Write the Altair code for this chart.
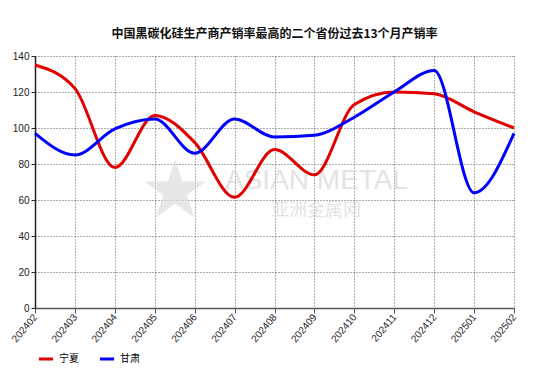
import altair as alt
import pandas as pd

months = ["202402", "202403", "202404", "202405", "202406", "202407", "202408",
          "202409", "202410", "202411", "202412", "202501", "202502"]
ningxia = [135, 122, 78, 107, 92, 61.5, 88, 74, 113, 120, 119, 109, 100]
gansu = [97, 85, 99.5, 105, 86, 105, 95, 96, 106, 120, 132, 64, 97]
series_names = ["宁夏", "甘肃"]
series_colors = ["#e00000", "#0000ff"]
title_text = "中国黑碳化硅生产商产销率最高的二个省份过去13个月产销率"

rows = []
for m, v in zip(months, ningxia):
    rows.append({"month": m, "value": v, "series": series_names[0]})
for m, v in zip(months, gansu):
    rows.append({"month": m, "value": v, "series": series_names[1]})
df = pd.DataFrame(rows)

FONT = "Noto Sans CJK SC"

lines = alt.Chart(df).mark_line(interpolate="monotone", strokeWidth=3).encode(
    x=alt.X("month:O", sort=months, scale=alt.Scale(type="point", padding=0),
            axis=alt.Axis(title=None, labelAngle=-50, labelFontSize=10, labelColor="#222",
                          grid=True, gridDash=[1, 2], gridColor="#333", gridOpacity=0.8,
                          domainColor="#555", domainWidth=1.5, tickColor="#555")),
    y=alt.Y("value:Q", scale=alt.Scale(domain=[0, 140]),
            axis=alt.Axis(title=None, values=list(range(0, 141, 20)), labelFontSize=10,
                          labelColor="#222", grid=True, gridDash=[1, 2], gridColor="#333",
                          gridOpacity=0.8, domainColor="#222", domainWidth=1.5,
                          tickColor="#222", tickSize=4)),
    color=alt.Color("series:N", sort=series_names,
                    scale=alt.Scale(domain=series_names, range=series_colors),
                    legend=alt.Legend(title=None, orient="none", legendX=2, legendY=294,
                                      direction="horizontal", symbolType="stroke",
                                      symbolStrokeWidth=3, symbolSize=200, labelFontSize=10,
                                      columnPadding=14, labelFont=FONT)),
)

wm1 = alt.Chart(pd.DataFrame({"t": ["ASIAN METAL"]})).mark_text(
    fontSize=28, font="Liberation Sans", color="#d8d8d8", opacity=0.7, align="left",
    baseline="middle").encode(x=alt.value(190), y=alt.value(125), text="t:N")
wm2 = alt.Chart(pd.DataFrame({"t": ["亚洲金属网"]})).mark_text(
    fontSize=18, font=FONT, color="#d8d8d8", opacity=0.7, align="left",
    baseline="middle").encode(x=alt.value(236), y=alt.value(155), text="t:N")
wm3 = alt.Chart(pd.DataFrame({"t": ["★"]})).mark_text(
    fontSize=80, font="DejaVu Sans", color="#dddddd", opacity=0.7, align="center",
    baseline="middle").encode(x=alt.value(140), y=alt.value(137), text="t:N")

chart = alt.layer(wm3, wm1, wm2, lines).properties(
    width=479, height=252,
    title=alt.TitleParams(title_text, fontSize=12, font=FONT, fontWeight="bold",
                          anchor="middle", offset=10, color="#111"),
    autosize=alt.AutoSizeParams(type="none"),
    padding={"left": 35, "top": 56, "right": 25, "bottom": 70},
).configure_view(stroke=None).configure_axis(labelFont="Liberation Sans")

chart.save("out.html", embed_options={"renderer": "svg", "actions": False})
